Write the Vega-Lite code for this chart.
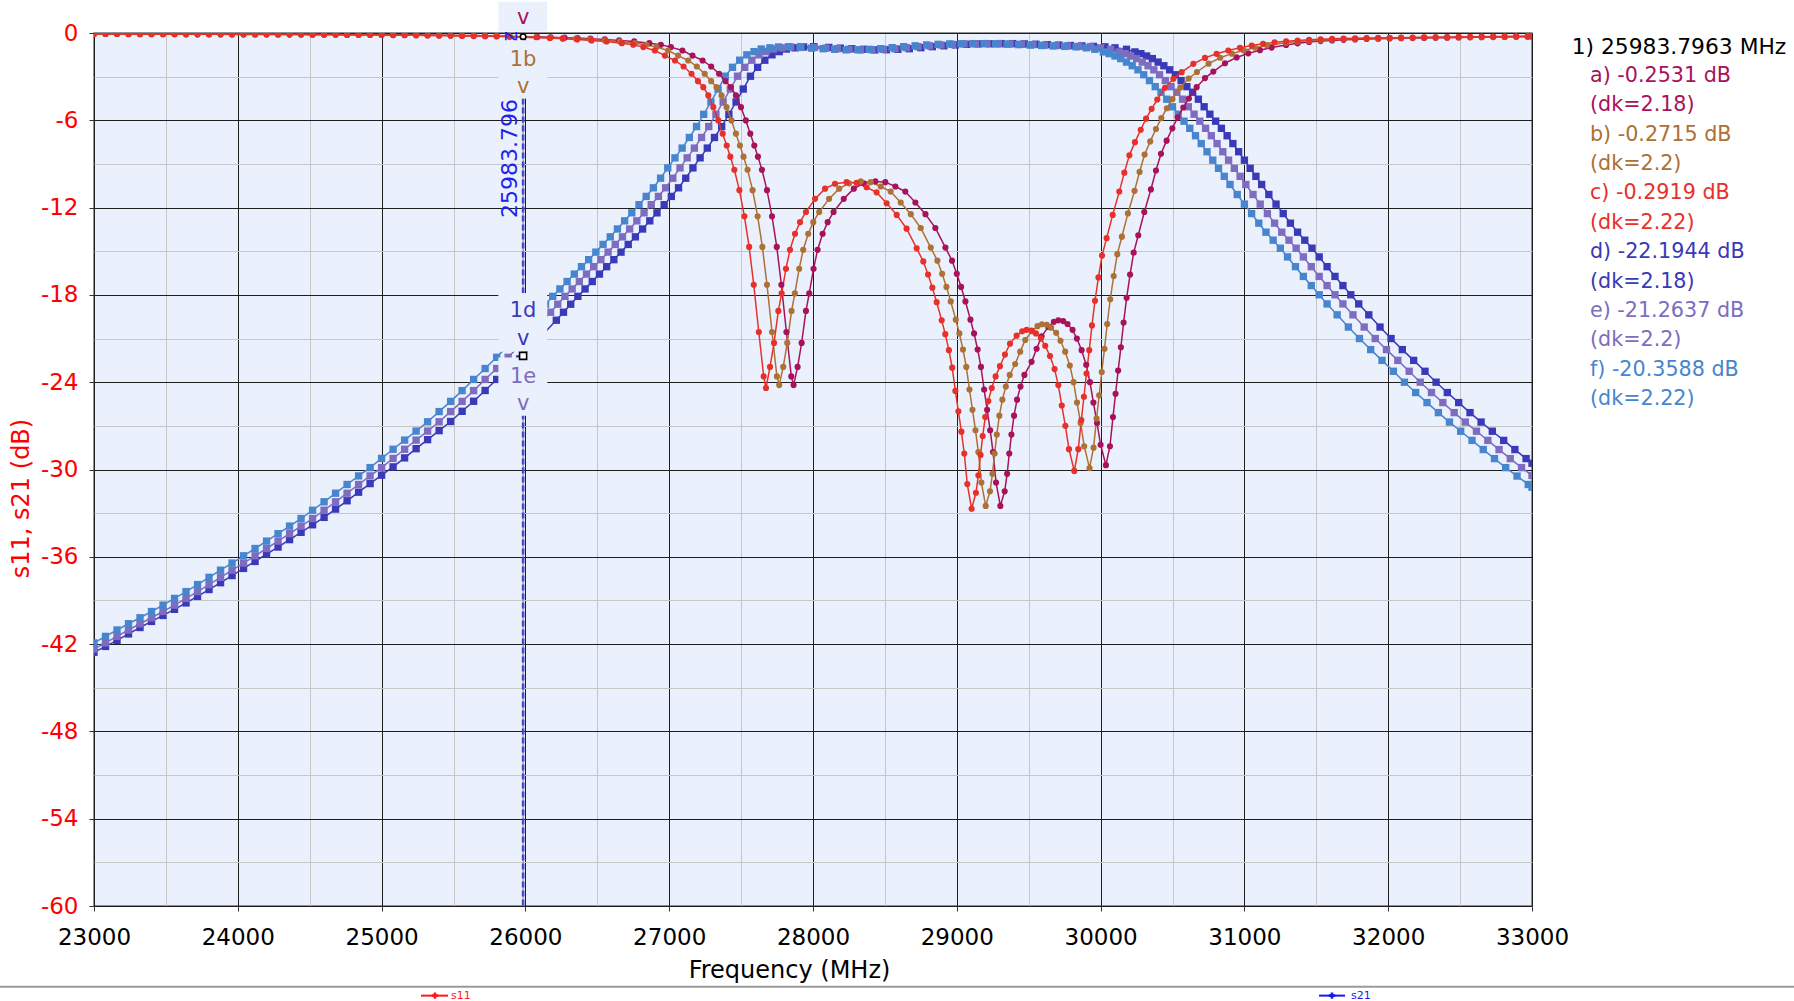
{
"$schema":"https://vega.github.io/schema/vega-lite/v6.json",
"width":1438,"height":873,
"autosize":{"type":"none"},
"padding":{"left":94,"top":33,"right":262,"bottom":95},
"background":"#FFFFFF",
"config":{"font":"DejaVu Sans","view":{"fill":"#EBF1FC","stroke":"#707070","strokeWidth":1.5}},
"datasets":{
"curves":[
{"s":"d","f":23000,"v":-42.56},{"s":"d","f":23080,"v":-42.16},{"s":"d","f":23160,"v":-41.74},{"s":"d","f":23240,"v":-41.3},{"s":"d","f":23320,"v":-40.86},{"s":"d","f":23400,"v":-40.44},{"s":"d","f":23480,"v":-40.03},{"s":"d","f":23560,"v":-39.61},{"s":"d","f":23640,"v":-39.17},{"s":"d","f":23720,"v":-38.72},{"s":"d","f":23800,"v":-38.25},{"s":"d","f":23880,"v":-37.78},{"s":"d","f":23960,"v":-37.29},{"s":"d","f":24040,"v":-36.8},{"s":"d","f":24120,"v":-36.32},{"s":"d","f":24200,"v":-35.82},{"s":"d","f":24280,"v":-35.33},{"s":"d","f":24360,"v":-34.82},{"s":"d","f":24440,"v":-34.32},{"s":"d","f":24520,"v":-33.8},{"s":"d","f":24600,"v":-33.29},{"s":"d","f":24680,"v":-32.72},{"s":"d","f":24760,"v":-32.15},{"s":"d","f":24840,"v":-31.56},{"s":"d","f":24920,"v":-30.97},{"s":"d","f":25000,"v":-30.39},{"s":"d","f":25080,"v":-29.82},{"s":"d","f":25160,"v":-29.2},{"s":"d","f":25240,"v":-28.57},{"s":"d","f":25320,"v":-27.95},{"s":"d","f":25400,"v":-27.33},{"s":"d","f":25480,"v":-26.7},{"s":"d","f":25560,"v":-26.0},{"s":"d","f":25640,"v":-25.31},{"s":"d","f":25720,"v":-24.57},{"s":"d","f":25800,"v":-23.81},{"s":"d","f":25880,"v":-23.12},{"s":"d","f":25960,"v":-22.4},
{"s":"d","f":26215,"v":-19.74},{"s":"d","f":26265,"v":-19.19},{"s":"d","f":26315,"v":-18.64},{"s":"d","f":26365,"v":-18.1},{"s":"d","f":26415,"v":-17.59},{"s":"d","f":26465,"v":-17.08},{"s":"d","f":26515,"v":-16.57},{"s":"d","f":26565,"v":-16.06},{"s":"d","f":26615,"v":-15.58},{"s":"d","f":26665,"v":-15.06},{"s":"d","f":26715,"v":-14.53},{"s":"d","f":26765,"v":-14.01},{"s":"d","f":26815,"v":-13.47},{"s":"d","f":26865,"v":-12.91},{"s":"d","f":26915,"v":-12.36},{"s":"d","f":26965,"v":-11.8},{"s":"d","f":27015,"v":-11.23},{"s":"d","f":27065,"v":-10.64},{"s":"d","f":27115,"v":-9.98},{"s":"d","f":27165,"v":-9.27},{"s":"d","f":27215,"v":-8.58},{"s":"d","f":27265,"v":-7.91},{"s":"d","f":27315,"v":-7.18},{"s":"d","f":27365,"v":-6.43},{"s":"d","f":27415,"v":-5.59},{"s":"d","f":27465,"v":-4.74},{"s":"d","f":27515,"v":-3.85},{"s":"d","f":27565,"v":-2.97},{"s":"d","f":27615,"v":-2.36},{"s":"d","f":27665,"v":-1.87},{"s":"d","f":27715,"v":-1.5},{"s":"d","f":27765,"v":-1.28},{"s":"d","f":27815,"v":-1.1},{"s":"d","f":27875,"v":-1.02},{"s":"d","f":27935,"v":-0.96},{"s":"d","f":28005,"v":-0.94},
{"s":"d","f":28110,"v":-0.99},{"s":"d","f":28190,"v":-1.04},{"s":"d","f":28270,"v":-1.08},{"s":"d","f":28350,"v":-1.12},{"s":"d","f":28430,"v":-1.16},{"s":"d","f":28510,"v":-1.15},{"s":"d","f":28590,"v":-1.12},{"s":"d","f":28670,"v":-1.08},{"s":"d","f":28750,"v":-1.01},{"s":"d","f":28830,"v":-0.94},{"s":"d","f":28910,"v":-0.88},{"s":"d","f":28990,"v":-0.82},{"s":"d","f":29070,"v":-0.78},{"s":"d","f":29150,"v":-0.75},{"s":"d","f":29230,"v":-0.74},{"s":"d","f":29310,"v":-0.73},{"s":"d","f":29390,"v":-0.73},{"s":"d","f":29470,"v":-0.75},{"s":"d","f":29550,"v":-0.77},{"s":"d","f":29630,"v":-0.8},{"s":"d","f":29710,"v":-0.83},{"s":"d","f":29790,"v":-0.86},{"s":"d","f":29870,"v":-0.89},{"s":"d","f":29950,"v":-0.92},{"s":"d","f":30030,"v":-0.95},{"s":"d","f":30100,"v":-1.02},
{"s":"d","f":30180,"v":-1.12},{"s":"d","f":30239,"v":-1.3},{"s":"d","f":30280,"v":-1.42},{"s":"d","f":30320,"v":-1.58},{"s":"d","f":30360,"v":-1.76},{"s":"d","f":30400,"v":-2.0},{"s":"d","f":30440,"v":-2.25},{"s":"d","f":30480,"v":-2.53},{"s":"d","f":30520,"v":-2.87},{"s":"d","f":30560,"v":-3.27},{"s":"d","f":30600,"v":-3.69},{"s":"d","f":30640,"v":-4.07},{"s":"d","f":30680,"v":-4.55},{"s":"d","f":30720,"v":-5.07},{"s":"d","f":30760,"v":-5.58},{"s":"d","f":30800,"v":-6.06},{"s":"d","f":30840,"v":-6.55},{"s":"d","f":30880,"v":-7.06},{"s":"d","f":30920,"v":-7.6},{"s":"d","f":30960,"v":-8.16},{"s":"d","f":31000,"v":-8.74},{"s":"d","f":31040,"v":-9.3},{"s":"d","f":31080,"v":-9.85},{"s":"d","f":31120,"v":-10.41},{"s":"d","f":31170,"v":-11.1},{"s":"d","f":31220,"v":-11.76},{"s":"d","f":31270,"v":-12.41},{"s":"d","f":31320,"v":-13.07},{"s":"d","f":31370,"v":-13.69},{"s":"d","f":31420,"v":-14.24},{"s":"d","f":31470,"v":-14.79},{"s":"d","f":31520,"v":-15.39},{"s":"d","f":31575,"v":-16.06},{"s":"d","f":31630,"v":-16.73},{"s":"d","f":31685,"v":-17.36},{"s":"d","f":31740,"v":-17.99},{"s":"d","f":31795,"v":-18.62},{"s":"d","f":31865,"v":-19.37},{"s":"d","f":31943,"v":-20.21},{"s":"d","f":32020,"v":-21.0},{"s":"d","f":32098,"v":-21.76},{"s":"d","f":32177,"v":-22.5},{"s":"d","f":32256,"v":-23.25},{"s":"d","f":32333,"v":-24.0},{"s":"d","f":32411,"v":-24.71},{"s":"d","f":32490,"v":-25.4},{"s":"d","f":32569,"v":-26.09},{"s":"d","f":32646,"v":-26.74},{"s":"d","f":32724,"v":-27.37},{"s":"d","f":32803,"v":-28.0},{"s":"d","f":32881,"v":-28.63},{"s":"d","f":32959,"v":-29.25},{"s":"d","f":33000,"v":-29.57},
{"s":"e","f":23000,"v":-42.34},{"s":"e","f":23080,"v":-41.92},{"s":"e","f":23160,"v":-41.47},{"s":"e","f":23240,"v":-41.03},{"s":"e","f":23320,"v":-40.6},{"s":"e","f":23400,"v":-40.19},{"s":"e","f":23480,"v":-39.76},{"s":"e","f":23560,"v":-39.32},{"s":"e","f":23640,"v":-38.86},{"s":"e","f":23720,"v":-38.39},{"s":"e","f":23800,"v":-37.91},{"s":"e","f":23880,"v":-37.41},{"s":"e","f":23960,"v":-36.92},{"s":"e","f":24040,"v":-36.43},{"s":"e","f":24120,"v":-35.93},{"s":"e","f":24200,"v":-35.43},{"s":"e","f":24280,"v":-34.92},{"s":"e","f":24360,"v":-34.41},{"s":"e","f":24440,"v":-33.89},{"s":"e","f":24520,"v":-33.37},{"s":"e","f":24600,"v":-32.8},{"s":"e","f":24680,"v":-32.22},{"s":"e","f":24760,"v":-31.63},{"s":"e","f":24840,"v":-31.03},{"s":"e","f":24920,"v":-30.44},{"s":"e","f":25000,"v":-29.87},{"s":"e","f":25080,"v":-29.24},{"s":"e","f":25160,"v":-28.61},{"s":"e","f":25240,"v":-27.98},{"s":"e","f":25320,"v":-27.36},{"s":"e","f":25400,"v":-26.72},{"s":"e","f":25480,"v":-26.02},{"s":"e","f":25560,"v":-25.32},{"s":"e","f":25640,"v":-24.58},{"s":"e","f":25720,"v":-23.81},{"s":"e","f":25800,"v":-23.06},{"s":"e","f":25880,"v":-22.29},{"s":"e","f":25960,"v":-21.47},
{"s":"e","f":26125,"v":-19.74},{"s":"e","f":26175,"v":-19.19},{"s":"e","f":26225,"v":-18.64},{"s":"e","f":26275,"v":-18.1},{"s":"e","f":26325,"v":-17.59},{"s":"e","f":26375,"v":-17.08},{"s":"e","f":26425,"v":-16.57},{"s":"e","f":26475,"v":-16.06},{"s":"e","f":26525,"v":-15.58},{"s":"e","f":26575,"v":-15.06},{"s":"e","f":26625,"v":-14.53},{"s":"e","f":26675,"v":-14.01},{"s":"e","f":26725,"v":-13.47},{"s":"e","f":26775,"v":-12.91},{"s":"e","f":26825,"v":-12.36},{"s":"e","f":26875,"v":-11.8},{"s":"e","f":26925,"v":-11.23},{"s":"e","f":26975,"v":-10.64},{"s":"e","f":27025,"v":-9.98},{"s":"e","f":27075,"v":-9.27},{"s":"e","f":27125,"v":-8.58},{"s":"e","f":27175,"v":-7.91},{"s":"e","f":27225,"v":-7.18},{"s":"e","f":27275,"v":-6.43},{"s":"e","f":27325,"v":-5.59},{"s":"e","f":27375,"v":-4.74},{"s":"e","f":27425,"v":-3.85},{"s":"e","f":27475,"v":-2.97},{"s":"e","f":27525,"v":-2.36},{"s":"e","f":27575,"v":-1.87},{"s":"e","f":27625,"v":-1.5},{"s":"e","f":27675,"v":-1.28},{"s":"e","f":27725,"v":-1.1},{"s":"e","f":27785,"v":-1.02},{"s":"e","f":27845,"v":-0.96},{"s":"e","f":27915,"v":-0.94},
{"s":"e","f":28010,"v":-0.99},{"s":"e","f":28090,"v":-1.04},{"s":"e","f":28170,"v":-1.08},{"s":"e","f":28250,"v":-1.12},{"s":"e","f":28330,"v":-1.16},{"s":"e","f":28410,"v":-1.15},{"s":"e","f":28490,"v":-1.12},{"s":"e","f":28570,"v":-1.08},{"s":"e","f":28650,"v":-1.01},{"s":"e","f":28730,"v":-0.94},{"s":"e","f":28810,"v":-0.88},{"s":"e","f":28890,"v":-0.82},{"s":"e","f":28970,"v":-0.78},{"s":"e","f":29050,"v":-0.75},{"s":"e","f":29130,"v":-0.74},{"s":"e","f":29210,"v":-0.73},{"s":"e","f":29290,"v":-0.73},{"s":"e","f":29370,"v":-0.75},{"s":"e","f":29450,"v":-0.77},{"s":"e","f":29530,"v":-0.8},{"s":"e","f":29610,"v":-0.83},{"s":"e","f":29690,"v":-0.86},{"s":"e","f":29770,"v":-0.89},{"s":"e","f":29850,"v":-0.92},{"s":"e","f":29930,"v":-0.95},{"s":"e","f":30000,"v":-1.02},
{"s":"e","f":30070,"v":-1.12},{"s":"e","f":30129,"v":-1.3},{"s":"e","f":30170,"v":-1.42},{"s":"e","f":30210,"v":-1.58},{"s":"e","f":30250,"v":-1.76},{"s":"e","f":30290,"v":-2.0},{"s":"e","f":30330,"v":-2.25},{"s":"e","f":30370,"v":-2.53},{"s":"e","f":30410,"v":-2.87},{"s":"e","f":30450,"v":-3.27},{"s":"e","f":30490,"v":-3.69},{"s":"e","f":30530,"v":-4.07},{"s":"e","f":30570,"v":-4.55},{"s":"e","f":30610,"v":-5.07},{"s":"e","f":30650,"v":-5.58},{"s":"e","f":30690,"v":-6.06},{"s":"e","f":30730,"v":-6.55},{"s":"e","f":30770,"v":-7.06},{"s":"e","f":30810,"v":-7.6},{"s":"e","f":30850,"v":-8.16},{"s":"e","f":30890,"v":-8.74},{"s":"e","f":30930,"v":-9.3},{"s":"e","f":30970,"v":-9.85},{"s":"e","f":31010,"v":-10.41},{"s":"e","f":31060,"v":-11.1},{"s":"e","f":31110,"v":-11.76},{"s":"e","f":31160,"v":-12.41},{"s":"e","f":31210,"v":-13.07},{"s":"e","f":31260,"v":-13.69},{"s":"e","f":31310,"v":-14.24},{"s":"e","f":31360,"v":-14.79},{"s":"e","f":31410,"v":-15.39},{"s":"e","f":31465,"v":-16.06},{"s":"e","f":31520,"v":-16.73},{"s":"e","f":31575,"v":-17.36},{"s":"e","f":31630,"v":-17.99},{"s":"e","f":31685,"v":-18.62},{"s":"e","f":31755,"v":-19.37},{"s":"e","f":31833,"v":-20.21},{"s":"e","f":31910,"v":-21.0},{"s":"e","f":31988,"v":-21.76},{"s":"e","f":32067,"v":-22.5},{"s":"e","f":32146,"v":-23.25},{"s":"e","f":32223,"v":-24.0},{"s":"e","f":32301,"v":-24.71},{"s":"e","f":32380,"v":-25.4},{"s":"e","f":32459,"v":-26.09},{"s":"e","f":32536,"v":-26.74},{"s":"e","f":32614,"v":-27.37},{"s":"e","f":32693,"v":-28.0},{"s":"e","f":32771,"v":-28.63},{"s":"e","f":32849,"v":-29.25},{"s":"e","f":32927,"v":-29.87},{"s":"e","f":33000,"v":-30.41},
{"s":"f","f":23000,"v":-41.92},{"s":"f","f":23080,"v":-41.47},{"s":"f","f":23160,"v":-41.03},{"s":"f","f":23240,"v":-40.6},{"s":"f","f":23320,"v":-40.19},{"s":"f","f":23400,"v":-39.76},{"s":"f","f":23480,"v":-39.32},{"s":"f","f":23560,"v":-38.86},{"s":"f","f":23640,"v":-38.39},{"s":"f","f":23720,"v":-37.91},{"s":"f","f":23800,"v":-37.41},{"s":"f","f":23880,"v":-36.92},{"s":"f","f":23960,"v":-36.43},{"s":"f","f":24040,"v":-35.93},{"s":"f","f":24120,"v":-35.43},{"s":"f","f":24200,"v":-34.92},{"s":"f","f":24280,"v":-34.41},{"s":"f","f":24360,"v":-33.89},{"s":"f","f":24440,"v":-33.37},{"s":"f","f":24520,"v":-32.8},{"s":"f","f":24600,"v":-32.22},{"s":"f","f":24680,"v":-31.63},{"s":"f","f":24760,"v":-31.03},{"s":"f","f":24840,"v":-30.44},{"s":"f","f":24920,"v":-29.87},{"s":"f","f":25000,"v":-29.24},{"s":"f","f":25080,"v":-28.61},{"s":"f","f":25160,"v":-27.98},{"s":"f","f":25240,"v":-27.36},{"s":"f","f":25320,"v":-26.72},{"s":"f","f":25400,"v":-26.02},{"s":"f","f":25480,"v":-25.32},{"s":"f","f":25560,"v":-24.58},{"s":"f","f":25640,"v":-23.81},{"s":"f","f":25720,"v":-23.06},{"s":"f","f":25800,"v":-22.29},{"s":"f","f":25880,"v":-21.47},{"s":"f","f":25960,"v":-20.61},
{"s":"f","f":26040,"v":-19.74},{"s":"f","f":26090,"v":-19.19},{"s":"f","f":26140,"v":-18.64},{"s":"f","f":26190,"v":-18.1},{"s":"f","f":26240,"v":-17.59},{"s":"f","f":26290,"v":-17.08},{"s":"f","f":26340,"v":-16.57},{"s":"f","f":26390,"v":-16.06},{"s":"f","f":26440,"v":-15.58},{"s":"f","f":26490,"v":-15.06},{"s":"f","f":26540,"v":-14.53},{"s":"f","f":26590,"v":-14.01},{"s":"f","f":26640,"v":-13.47},{"s":"f","f":26690,"v":-12.91},{"s":"f","f":26740,"v":-12.36},{"s":"f","f":26790,"v":-11.8},{"s":"f","f":26840,"v":-11.23},{"s":"f","f":26890,"v":-10.64},{"s":"f","f":26940,"v":-9.98},{"s":"f","f":26990,"v":-9.27},{"s":"f","f":27040,"v":-8.58},{"s":"f","f":27090,"v":-7.91},{"s":"f","f":27140,"v":-7.18},{"s":"f","f":27190,"v":-6.43},{"s":"f","f":27240,"v":-5.59},{"s":"f","f":27290,"v":-4.74},{"s":"f","f":27340,"v":-3.85},{"s":"f","f":27390,"v":-2.97},{"s":"f","f":27440,"v":-2.36},{"s":"f","f":27490,"v":-1.87},{"s":"f","f":27540,"v":-1.5},{"s":"f","f":27590,"v":-1.28},{"s":"f","f":27640,"v":-1.1},{"s":"f","f":27700,"v":-1.02},{"s":"f","f":27760,"v":-0.96},{"s":"f","f":27830,"v":-0.94},
{"s":"f","f":27910,"v":-0.99},{"s":"f","f":27990,"v":-1.04},{"s":"f","f":28070,"v":-1.08},{"s":"f","f":28150,"v":-1.12},{"s":"f","f":28230,"v":-1.16},{"s":"f","f":28310,"v":-1.15},{"s":"f","f":28390,"v":-1.12},{"s":"f","f":28470,"v":-1.08},{"s":"f","f":28550,"v":-1.01},{"s":"f","f":28630,"v":-0.94},{"s":"f","f":28710,"v":-0.88},{"s":"f","f":28790,"v":-0.82},{"s":"f","f":28870,"v":-0.78},{"s":"f","f":28950,"v":-0.75},{"s":"f","f":29030,"v":-0.74},{"s":"f","f":29110,"v":-0.73},{"s":"f","f":29190,"v":-0.73},{"s":"f","f":29270,"v":-0.75},{"s":"f","f":29350,"v":-0.77},{"s":"f","f":29430,"v":-0.8},{"s":"f","f":29510,"v":-0.83},{"s":"f","f":29590,"v":-0.86},{"s":"f","f":29670,"v":-0.89},{"s":"f","f":29750,"v":-0.92},{"s":"f","f":29830,"v":-0.95},{"s":"f","f":29900,"v":-1.02},
{"s":"f","f":29960,"v":-1.12},{"s":"f","f":30019,"v":-1.3},{"s":"f","f":30060,"v":-1.42},{"s":"f","f":30100,"v":-1.58},{"s":"f","f":30140,"v":-1.76},{"s":"f","f":30180,"v":-2.0},{"s":"f","f":30220,"v":-2.25},{"s":"f","f":30260,"v":-2.53},{"s":"f","f":30300,"v":-2.87},{"s":"f","f":30340,"v":-3.27},{"s":"f","f":30380,"v":-3.69},{"s":"f","f":30420,"v":-4.07},{"s":"f","f":30460,"v":-4.55},{"s":"f","f":30500,"v":-5.07},{"s":"f","f":30540,"v":-5.58},{"s":"f","f":30580,"v":-6.06},{"s":"f","f":30620,"v":-6.55},{"s":"f","f":30660,"v":-7.06},{"s":"f","f":30700,"v":-7.6},{"s":"f","f":30740,"v":-8.16},{"s":"f","f":30780,"v":-8.74},{"s":"f","f":30820,"v":-9.3},{"s":"f","f":30860,"v":-9.85},{"s":"f","f":30900,"v":-10.41},{"s":"f","f":30950,"v":-11.1},{"s":"f","f":31000,"v":-11.76},{"s":"f","f":31050,"v":-12.41},{"s":"f","f":31100,"v":-13.07},{"s":"f","f":31150,"v":-13.69},{"s":"f","f":31200,"v":-14.24},{"s":"f","f":31250,"v":-14.79},{"s":"f","f":31300,"v":-15.39},{"s":"f","f":31355,"v":-16.06},{"s":"f","f":31410,"v":-16.73},{"s":"f","f":31465,"v":-17.36},{"s":"f","f":31520,"v":-17.99},{"s":"f","f":31575,"v":-18.62},{"s":"f","f":31645,"v":-19.37},{"s":"f","f":31723,"v":-20.21},{"s":"f","f":31800,"v":-21.0},{"s":"f","f":31878,"v":-21.76},{"s":"f","f":31957,"v":-22.5},{"s":"f","f":32036,"v":-23.25},{"s":"f","f":32113,"v":-24.0},{"s":"f","f":32191,"v":-24.71},{"s":"f","f":32270,"v":-25.4},{"s":"f","f":32349,"v":-26.09},{"s":"f","f":32426,"v":-26.74},{"s":"f","f":32504,"v":-27.37},{"s":"f","f":32583,"v":-28.0},{"s":"f","f":32661,"v":-28.63},{"s":"f","f":32739,"v":-29.25},{"s":"f","f":32817,"v":-29.87},{"s":"f","f":32896,"v":-30.45},{"s":"f","f":32974,"v":-31.03},{"s":"f","f":33000,"v":-31.22},
{"s":"a","f":23000,"v":-0.06},{"s":"a","f":23080,"v":-0.06},{"s":"a","f":23160,"v":-0.06},{"s":"a","f":23240,"v":-0.07},{"s":"a","f":23320,"v":-0.07},{"s":"a","f":23400,"v":-0.07},{"s":"a","f":23480,"v":-0.07},{"s":"a","f":23560,"v":-0.07},{"s":"a","f":23640,"v":-0.08},{"s":"a","f":23720,"v":-0.08},{"s":"a","f":23800,"v":-0.08},{"s":"a","f":23880,"v":-0.08},{"s":"a","f":23960,"v":-0.08},{"s":"a","f":24040,"v":-0.08},{"s":"a","f":24120,"v":-0.08},{"s":"a","f":24200,"v":-0.08},{"s":"a","f":24280,"v":-0.09},{"s":"a","f":24360,"v":-0.09},{"s":"a","f":24440,"v":-0.09},{"s":"a","f":24520,"v":-0.1},{"s":"a","f":24600,"v":-0.1},{"s":"a","f":24680,"v":-0.1},{"s":"a","f":24760,"v":-0.1},{"s":"a","f":24840,"v":-0.1},{"s":"a","f":24920,"v":-0.11},{"s":"a","f":25000,"v":-0.11},{"s":"a","f":25080,"v":-0.12},{"s":"a","f":25160,"v":-0.12},{"s":"a","f":25240,"v":-0.13},{"s":"a","f":25320,"v":-0.14},{"s":"a","f":25400,"v":-0.15},{"s":"a","f":25480,"v":-0.16},{"s":"a","f":25560,"v":-0.17},{"s":"a","f":25640,"v":-0.18},{"s":"a","f":25720,"v":-0.19},{"s":"a","f":25800,"v":-0.2},{"s":"a","f":25890,"v":-0.22},{"s":"a","f":25984,"v":-0.25},
{"s":"a","f":26082,"v":-0.26},{"s":"a","f":26176,"v":-0.29},{"s":"a","f":26272,"v":-0.32},{"s":"a","f":26362,"v":-0.35},{"s":"a","f":26452,"v":-0.39},{"s":"a","f":26552,"v":-0.44},{"s":"a","f":26652,"v":-0.51},{"s":"a","f":26757,"v":-0.58},{"s":"a","f":26862,"v":-0.7},{"s":"a","f":26942,"v":-0.81},{"s":"a","f":27012,"v":-0.97},{"s":"a","f":27092,"v":-1.2},{"s":"a","f":27162,"v":-1.55},{"s":"a","f":27232,"v":-1.89},{"s":"a","f":27292,"v":-2.3},{"s":"a","f":27347,"v":-2.8},{"s":"a","f":27392,"v":-3.31},{"s":"a","f":27429,"v":-3.72},{"s":"a","f":27464,"v":-4.29},{"s":"a","f":27499,"v":-5.1},{"s":"a","f":27533,"v":-6.01},{"s":"a","f":27564,"v":-6.92},{"s":"a","f":27592,"v":-7.73},{"s":"a","f":27617,"v":-8.5},{"s":"a","f":27645,"v":-9.4},{"s":"a","f":27680,"v":-10.8},{"s":"a","f":27715,"v":-12.6},{"s":"a","f":27748,"v":-14.7},{"s":"a","f":27780,"v":-17.3},{"s":"a","f":27815,"v":-20.55},{"s":"a","f":27849,"v":-23.6},{"s":"a","f":27865,"v":-24.2},{"s":"a","f":27893,"v":-22.95},{"s":"a","f":27921,"v":-21.3},{"s":"a","f":27951,"v":-19.1},{"s":"a","f":27974,"v":-17.9},{"s":"a","f":28004,"v":-16.2},{"s":"a","f":28032,"v":-14.9},{"s":"a","f":28067,"v":-13.8},{"s":"a","f":28102,"v":-13.0},{"s":"a","f":28143,"v":-12.3},
{"s":"a","f":28214,"v":-11.4},{"s":"a","f":28284,"v":-10.7},{"s":"a","f":28353,"v":-10.33},{"s":"a","f":28434,"v":-10.2},{"s":"a","f":28503,"v":-10.25},{"s":"a","f":28573,"v":-10.55},{"s":"a","f":28642,"v":-10.9},{"s":"a","f":28712,"v":-11.65},{"s":"a","f":28782,"v":-12.45},{"s":"a","f":28851,"v":-13.4},{"s":"a","f":28921,"v":-14.75},{"s":"a","f":28967,"v":-15.65},{"s":"a","f":29000,"v":-16.55},{"s":"a","f":29030,"v":-17.45},{"s":"a","f":29060,"v":-18.45},{"s":"a","f":29095,"v":-19.7},{"s":"a","f":29120,"v":-20.65},{"s":"a","f":29145,"v":-21.75},{"s":"a","f":29168,"v":-22.95},{"s":"a","f":29190,"v":-24.5},{"s":"a","f":29211,"v":-25.9},{"s":"a","f":29232,"v":-27.3},{"s":"a","f":29252,"v":-28.8},{"s":"a","f":29273,"v":-30.9},{"s":"a","f":29303,"v":-32.5},{"s":"a","f":29333,"v":-31.5},{"s":"a","f":29350,"v":-30.3},{"s":"a","f":29365,"v":-28.9},{"s":"a","f":29380,"v":-27.6},{"s":"a","f":29398,"v":-26.3},{"s":"a","f":29419,"v":-25.2},{"s":"a","f":29443,"v":-24.3},{"s":"a","f":29470,"v":-23.5},
{"s":"a","f":29520,"v":-22.6},{"s":"a","f":29555,"v":-21.7},{"s":"a","f":29590,"v":-20.85},{"s":"a","f":29636,"v":-20.2},{"s":"a","f":29675,"v":-19.85},{"s":"a","f":29706,"v":-19.75},{"s":"a","f":29740,"v":-19.8},{"s":"a","f":29770,"v":-20.0},{"s":"a","f":29805,"v":-20.4},{"s":"a","f":29835,"v":-21.0},{"s":"a","f":29868,"v":-21.8},{"s":"a","f":29900,"v":-22.8},{"s":"a","f":29926,"v":-24.0},{"s":"a","f":29950,"v":-25.4},{"s":"a","f":29975,"v":-26.8},{"s":"a","f":30000,"v":-28.3},{"s":"a","f":30037,"v":-29.7},{"s":"a","f":30065,"v":-28.4},{"s":"a","f":30086,"v":-26.4},{"s":"a","f":30104,"v":-24.8},{"s":"a","f":30122,"v":-23.2},{"s":"a","f":30141,"v":-21.6},{"s":"a","f":30160,"v":-19.9},{"s":"a","f":30181,"v":-18.2},{"s":"a","f":30205,"v":-16.6},{"s":"a","f":30230,"v":-15.1},{"s":"a","f":30262,"v":-13.9},{"s":"a","f":30304,"v":-12.3},{"s":"a","f":30350,"v":-10.75},{"s":"a","f":30385,"v":-9.45},{"s":"a","f":30420,"v":-8.3},{"s":"a","f":30459,"v":-7.4},{"s":"a","f":30499,"v":-6.55},{"s":"a","f":30536,"v":-5.8},{"s":"a","f":30575,"v":-5.12},{"s":"a","f":30614,"v":-4.5},{"s":"a","f":30668,"v":-3.72},{"s":"a","f":30726,"v":-3.1},{"s":"a","f":30784,"v":-2.65},{"s":"a","f":30865,"v":-2.08},{"s":"a","f":30946,"v":-1.68},{"s":"a","f":31027,"v":-1.4},{"s":"a","f":31108,"v":-1.18},{"s":"a","f":31189,"v":-1.0},
{"s":"a","f":31290,"v":-0.82},{"s":"a","f":31370,"v":-0.71},{"s":"a","f":31450,"v":-0.62},{"s":"a","f":31530,"v":-0.555},{"s":"a","f":31610,"v":-0.51},{"s":"a","f":31690,"v":-0.47},{"s":"a","f":31770,"v":-0.44},{"s":"a","f":31850,"v":-0.41},{"s":"a","f":31930,"v":-0.39},{"s":"a","f":32010,"v":-0.375},{"s":"a","f":32090,"v":-0.36},{"s":"a","f":32170,"v":-0.35},{"s":"a","f":32250,"v":-0.34},{"s":"a","f":32330,"v":-0.33},{"s":"a","f":32410,"v":-0.32},{"s":"a","f":32490,"v":-0.31},{"s":"a","f":32570,"v":-0.3},{"s":"a","f":32650,"v":-0.29},{"s":"a","f":32730,"v":-0.28},{"s":"a","f":32810,"v":-0.27},{"s":"a","f":32890,"v":-0.26},{"s":"a","f":32970,"v":-0.255},{"s":"a","f":33000,"v":-0.25},
{"s":"b","f":23000,"v":-0.07},{"s":"b","f":23080,"v":-0.07},{"s":"b","f":23160,"v":-0.07},{"s":"b","f":23240,"v":-0.07},{"s":"b","f":23320,"v":-0.08},{"s":"b","f":23400,"v":-0.08},{"s":"b","f":23480,"v":-0.08},{"s":"b","f":23560,"v":-0.08},{"s":"b","f":23640,"v":-0.08},{"s":"b","f":23720,"v":-0.08},{"s":"b","f":23800,"v":-0.09},{"s":"b","f":23880,"v":-0.09},{"s":"b","f":23960,"v":-0.09},{"s":"b","f":24040,"v":-0.09},{"s":"b","f":24120,"v":-0.09},{"s":"b","f":24200,"v":-0.09},{"s":"b","f":24280,"v":-0.1},{"s":"b","f":24360,"v":-0.1},{"s":"b","f":24440,"v":-0.1},{"s":"b","f":24520,"v":-0.11},{"s":"b","f":24600,"v":-0.11},{"s":"b","f":24680,"v":-0.11},{"s":"b","f":24760,"v":-0.12},{"s":"b","f":24840,"v":-0.12},{"s":"b","f":24920,"v":-0.12},{"s":"b","f":25000,"v":-0.13},{"s":"b","f":25080,"v":-0.13},{"s":"b","f":25160,"v":-0.14},{"s":"b","f":25240,"v":-0.15},{"s":"b","f":25320,"v":-0.16},{"s":"b","f":25400,"v":-0.17},{"s":"b","f":25480,"v":-0.18},{"s":"b","f":25560,"v":-0.19},{"s":"b","f":25640,"v":-0.2},{"s":"b","f":25720,"v":-0.21},{"s":"b","f":25800,"v":-0.22},{"s":"b","f":25890,"v":-0.24},
{"s":"b","f":25982,"v":-0.27},{"s":"b","f":26076,"v":-0.29},{"s":"b","f":26172,"v":-0.32},{"s":"b","f":26262,"v":-0.35},{"s":"b","f":26352,"v":-0.39},{"s":"b","f":26452,"v":-0.44},{"s":"b","f":26552,"v":-0.51},{"s":"b","f":26657,"v":-0.58},{"s":"b","f":26762,"v":-0.7},{"s":"b","f":26842,"v":-0.81},{"s":"b","f":26912,"v":-0.97},{"s":"b","f":26992,"v":-1.2},{"s":"b","f":27062,"v":-1.55},{"s":"b","f":27132,"v":-1.89},{"s":"b","f":27192,"v":-2.3},{"s":"b","f":27247,"v":-2.8},{"s":"b","f":27292,"v":-3.31},{"s":"b","f":27329,"v":-3.72},{"s":"b","f":27364,"v":-4.29},{"s":"b","f":27399,"v":-5.1},{"s":"b","f":27433,"v":-6.01},{"s":"b","f":27464,"v":-6.92},{"s":"b","f":27492,"v":-7.73},{"s":"b","f":27517,"v":-8.5},{"s":"b","f":27545,"v":-9.4},{"s":"b","f":27580,"v":-10.8},{"s":"b","f":27615,"v":-12.6},{"s":"b","f":27648,"v":-14.7},{"s":"b","f":27680,"v":-17.3},{"s":"b","f":27715,"v":-20.55},{"s":"b","f":27749,"v":-23.6},{"s":"b","f":27765,"v":-24.2},{"s":"b","f":27793,"v":-22.95},{"s":"b","f":27821,"v":-21.3},{"s":"b","f":27851,"v":-19.1},{"s":"b","f":27874,"v":-17.9},{"s":"b","f":27904,"v":-16.2},{"s":"b","f":27932,"v":-14.9},{"s":"b","f":27967,"v":-13.8},{"s":"b","f":28002,"v":-13.0},{"s":"b","f":28043,"v":-12.3},
{"s":"b","f":28112,"v":-11.4},{"s":"b","f":28182,"v":-10.7},{"s":"b","f":28251,"v":-10.33},{"s":"b","f":28332,"v":-10.2},{"s":"b","f":28401,"v":-10.25},{"s":"b","f":28471,"v":-10.55},{"s":"b","f":28540,"v":-10.9},{"s":"b","f":28610,"v":-11.65},{"s":"b","f":28680,"v":-12.45},{"s":"b","f":28749,"v":-13.4},{"s":"b","f":28819,"v":-14.75},{"s":"b","f":28865,"v":-15.65},{"s":"b","f":28898,"v":-16.55},{"s":"b","f":28928,"v":-17.45},{"s":"b","f":28958,"v":-18.45},{"s":"b","f":28993,"v":-19.7},{"s":"b","f":29018,"v":-20.65},{"s":"b","f":29043,"v":-21.75},{"s":"b","f":29066,"v":-22.95},{"s":"b","f":29088,"v":-24.5},{"s":"b","f":29109,"v":-25.9},{"s":"b","f":29130,"v":-27.3},{"s":"b","f":29150,"v":-28.8},{"s":"b","f":29171,"v":-30.9},{"s":"b","f":29201,"v":-32.5},{"s":"b","f":29231,"v":-31.5},{"s":"b","f":29248,"v":-30.3},{"s":"b","f":29263,"v":-28.9},{"s":"b","f":29278,"v":-27.6},{"s":"b","f":29296,"v":-26.3},{"s":"b","f":29317,"v":-25.2},{"s":"b","f":29341,"v":-24.3},{"s":"b","f":29368,"v":-23.5},
{"s":"b","f":29406,"v":-22.75},{"s":"b","f":29441,"v":-21.9},{"s":"b","f":29476,"v":-21.1},{"s":"b","f":29522,"v":-20.5},{"s":"b","f":29561,"v":-20.15},{"s":"b","f":29592,"v":-20.02},{"s":"b","f":29626,"v":-20.05},{"s":"b","f":29656,"v":-20.25},{"s":"b","f":29691,"v":-20.6},{"s":"b","f":29721,"v":-21.15},{"s":"b","f":29754,"v":-21.9},{"s":"b","f":29786,"v":-22.85},{"s":"b","f":29812,"v":-24.0},{"s":"b","f":29836,"v":-25.4},{"s":"b","f":29861,"v":-26.8},{"s":"b","f":29886,"v":-28.4},{"s":"b","f":29923,"v":-29.9},{"s":"b","f":29951,"v":-28.5},{"s":"b","f":29972,"v":-26.5},{"s":"b","f":29990,"v":-24.9},{"s":"b","f":30008,"v":-23.3},{"s":"b","f":30027,"v":-21.7},{"s":"b","f":30046,"v":-20.0},{"s":"b","f":30067,"v":-18.3},{"s":"b","f":30091,"v":-16.7},{"s":"b","f":30116,"v":-15.2},{"s":"b","f":30148,"v":-14.0},{"s":"b","f":30190,"v":-12.4},{"s":"b","f":30236,"v":-10.85},{"s":"b","f":30271,"v":-9.55},{"s":"b","f":30306,"v":-8.35},{"s":"b","f":30345,"v":-7.45},{"s":"b","f":30385,"v":-6.6},{"s":"b","f":30422,"v":-5.85},{"s":"b","f":30461,"v":-5.17},{"s":"b","f":30500,"v":-4.54},{"s":"b","f":30554,"v":-3.75},{"s":"b","f":30612,"v":-3.13},{"s":"b","f":30670,"v":-2.68},{"s":"b","f":30751,"v":-2.11},{"s":"b","f":30832,"v":-1.7},{"s":"b","f":30913,"v":-1.42},{"s":"b","f":30994,"v":-1.19},{"s":"b","f":31075,"v":-1.01},{"s":"b","f":31157,"v":-0.85},
{"s":"b","f":31290,"v":-0.67},{"s":"b","f":31370,"v":-0.59},{"s":"b","f":31450,"v":-0.54},{"s":"b","f":31530,"v":-0.49},{"s":"b","f":31610,"v":-0.45},{"s":"b","f":31690,"v":-0.42},{"s":"b","f":31770,"v":-0.4},{"s":"b","f":31850,"v":-0.375},{"s":"b","f":31930,"v":-0.36},{"s":"b","f":32010,"v":-0.345},{"s":"b","f":32090,"v":-0.335},{"s":"b","f":32170,"v":-0.325},{"s":"b","f":32250,"v":-0.315},{"s":"b","f":32330,"v":-0.305},{"s":"b","f":32410,"v":-0.295},{"s":"b","f":32490,"v":-0.285},{"s":"b","f":32570,"v":-0.275},{"s":"b","f":32650,"v":-0.265},{"s":"b","f":32730,"v":-0.255},{"s":"b","f":32810,"v":-0.25},{"s":"b","f":32890,"v":-0.24},{"s":"b","f":32970,"v":-0.235},{"s":"b","f":33000,"v":-0.235},
{"s":"c","f":23000,"v":-0.07},{"s":"c","f":23080,"v":-0.07},{"s":"c","f":23160,"v":-0.07},{"s":"c","f":23240,"v":-0.08},{"s":"c","f":23320,"v":-0.08},{"s":"c","f":23400,"v":-0.08},{"s":"c","f":23480,"v":-0.08},{"s":"c","f":23560,"v":-0.08},{"s":"c","f":23640,"v":-0.09},{"s":"c","f":23720,"v":-0.09},{"s":"c","f":23800,"v":-0.09},{"s":"c","f":23880,"v":-0.09},{"s":"c","f":23960,"v":-0.1},{"s":"c","f":24040,"v":-0.1},{"s":"c","f":24120,"v":-0.1},{"s":"c","f":24200,"v":-0.1},{"s":"c","f":24280,"v":-0.11},{"s":"c","f":24360,"v":-0.11},{"s":"c","f":24440,"v":-0.11},{"s":"c","f":24520,"v":-0.12},{"s":"c","f":24600,"v":-0.12},{"s":"c","f":24680,"v":-0.12},{"s":"c","f":24760,"v":-0.13},{"s":"c","f":24840,"v":-0.13},{"s":"c","f":24920,"v":-0.14},{"s":"c","f":25000,"v":-0.14},{"s":"c","f":25080,"v":-0.15},{"s":"c","f":25160,"v":-0.15},{"s":"c","f":25240,"v":-0.16},{"s":"c","f":25320,"v":-0.17},{"s":"c","f":25400,"v":-0.18},{"s":"c","f":25480,"v":-0.19},{"s":"c","f":25560,"v":-0.2},{"s":"c","f":25640,"v":-0.21},{"s":"c","f":25720,"v":-0.22},{"s":"c","f":25800,"v":-0.23},
{"s":"c","f":25890,"v":-0.26},{"s":"c","f":25984,"v":-0.29},{"s":"c","f":26080,"v":-0.32},{"s":"c","f":26170,"v":-0.35},{"s":"c","f":26260,"v":-0.39},{"s":"c","f":26360,"v":-0.44},{"s":"c","f":26460,"v":-0.51},{"s":"c","f":26565,"v":-0.58},{"s":"c","f":26670,"v":-0.7},{"s":"c","f":26750,"v":-0.81},{"s":"c","f":26820,"v":-0.97},{"s":"c","f":26900,"v":-1.2},{"s":"c","f":26970,"v":-1.55},{"s":"c","f":27040,"v":-1.89},{"s":"c","f":27100,"v":-2.3},{"s":"c","f":27155,"v":-2.8},{"s":"c","f":27200,"v":-3.31},{"s":"c","f":27237,"v":-3.72},{"s":"c","f":27272,"v":-4.29},{"s":"c","f":27307,"v":-5.1},{"s":"c","f":27341,"v":-6.01},{"s":"c","f":27372,"v":-6.92},{"s":"c","f":27400,"v":-7.73},{"s":"c","f":27425,"v":-8.5},{"s":"c","f":27453,"v":-9.4},{"s":"c","f":27488,"v":-10.8},{"s":"c","f":27523,"v":-12.6},{"s":"c","f":27556,"v":-14.7},{"s":"c","f":27588,"v":-17.3},{"s":"c","f":27623,"v":-20.55},{"s":"c","f":27657,"v":-23.6},{"s":"c","f":27673,"v":-24.4},{"s":"c","f":27701,"v":-22.95},{"s":"c","f":27729,"v":-21.3},{"s":"c","f":27759,"v":-19.1},{"s":"c","f":27782,"v":-17.9},{"s":"c","f":27812,"v":-16.2},{"s":"c","f":27840,"v":-14.9},{"s":"c","f":27875,"v":-13.8},{"s":"c","f":27910,"v":-13.0},{"s":"c","f":27951,"v":-12.3},
{"s":"c","f":28014,"v":-11.4},{"s":"c","f":28084,"v":-10.7},{"s":"c","f":28153,"v":-10.36},{"s":"c","f":28234,"v":-10.25},{"s":"c","f":28303,"v":-10.3},{"s":"c","f":28373,"v":-10.6},{"s":"c","f":28442,"v":-10.95},{"s":"c","f":28512,"v":-11.7},{"s":"c","f":28582,"v":-12.5},{"s":"c","f":28651,"v":-13.45},{"s":"c","f":28721,"v":-14.8},{"s":"c","f":28767,"v":-15.7},{"s":"c","f":28800,"v":-16.6},{"s":"c","f":28830,"v":-17.5},{"s":"c","f":28860,"v":-18.5},{"s":"c","f":28895,"v":-19.75},{"s":"c","f":28920,"v":-20.7},{"s":"c","f":28945,"v":-21.8},{"s":"c","f":28968,"v":-23.0},{"s":"c","f":28990,"v":-24.6},{"s":"c","f":29011,"v":-26.0},{"s":"c","f":29032,"v":-27.4},{"s":"c","f":29052,"v":-28.9},{"s":"c","f":29073,"v":-31.0},{"s":"c","f":29103,"v":-32.7},{"s":"c","f":29133,"v":-31.6},{"s":"c","f":29150,"v":-30.4},{"s":"c","f":29165,"v":-29.0},{"s":"c","f":29180,"v":-27.7},{"s":"c","f":29198,"v":-26.4},{"s":"c","f":29219,"v":-25.3},{"s":"c","f":29243,"v":-24.4},{"s":"c","f":29270,"v":-23.6},
{"s":"c","f":29300,"v":-22.9},{"s":"c","f":29335,"v":-22.1},{"s":"c","f":29370,"v":-21.35},{"s":"c","f":29416,"v":-20.8},{"s":"c","f":29455,"v":-20.5},{"s":"c","f":29486,"v":-20.4},{"s":"c","f":29520,"v":-20.45},{"s":"c","f":29550,"v":-20.65},{"s":"c","f":29585,"v":-21.0},{"s":"c","f":29615,"v":-21.5},{"s":"c","f":29648,"v":-22.2},{"s":"c","f":29680,"v":-23.1},{"s":"c","f":29706,"v":-24.2},{"s":"c","f":29730,"v":-25.6},{"s":"c","f":29755,"v":-27.0},{"s":"c","f":29780,"v":-28.6},{"s":"c","f":29817,"v":-30.1},{"s":"c","f":29845,"v":-28.6},{"s":"c","f":29866,"v":-26.6},{"s":"c","f":29884,"v":-25.0},{"s":"c","f":29902,"v":-23.4},{"s":"c","f":29921,"v":-21.8},{"s":"c","f":29940,"v":-20.1},{"s":"c","f":29961,"v":-18.4},{"s":"c","f":29985,"v":-16.8},{"s":"c","f":30010,"v":-15.3},{"s":"c","f":30042,"v":-14.1},{"s":"c","f":30084,"v":-12.5},{"s":"c","f":30130,"v":-10.9},{"s":"c","f":30165,"v":-9.6},{"s":"c","f":30200,"v":-8.4},{"s":"c","f":30239,"v":-7.5},{"s":"c","f":30279,"v":-6.65},{"s":"c","f":30316,"v":-5.89},{"s":"c","f":30355,"v":-5.21},{"s":"c","f":30394,"v":-4.57},{"s":"c","f":30448,"v":-3.77},{"s":"c","f":30506,"v":-3.15},{"s":"c","f":30564,"v":-2.69},{"s":"c","f":30645,"v":-2.12},{"s":"c","f":30726,"v":-1.71},{"s":"c","f":30807,"v":-1.43},{"s":"c","f":30888,"v":-1.2},{"s":"c","f":30969,"v":-1.02},{"s":"c","f":31051,"v":-0.86},
{"s":"c","f":31130,"v":-0.74},{"s":"c","f":31210,"v":-0.64},{"s":"c","f":31290,"v":-0.57},{"s":"c","f":31370,"v":-0.52},{"s":"c","f":31450,"v":-0.47},{"s":"c","f":31530,"v":-0.43},{"s":"c","f":31610,"v":-0.4},{"s":"c","f":31690,"v":-0.38},{"s":"c","f":31770,"v":-0.36},{"s":"c","f":31850,"v":-0.35},{"s":"c","f":31930,"v":-0.34},{"s":"c","f":32010,"v":-0.33},{"s":"c","f":32090,"v":-0.32},{"s":"c","f":32170,"v":-0.31},{"s":"c","f":32250,"v":-0.3},{"s":"c","f":32330,"v":-0.29},{"s":"c","f":32410,"v":-0.28},{"s":"c","f":32490,"v":-0.27},{"s":"c","f":32570,"v":-0.26},{"s":"c","f":32650,"v":-0.25},{"s":"c","f":32730,"v":-0.24},{"s":"c","f":32810,"v":-0.24},{"s":"c","f":32890,"v":-0.23},{"s":"c","f":32970,"v":-0.22},{"s":"c","f":33000,"v":-0.22}
]
},
"encoding":{
"x":{"field":"f","type":"quantitative","scale":{"domain":[23000,33000],"nice":false,"zero":false},
"axis":{"values":[23000,23500,24000,24500,25000,25500,26000,26500,27000,27500,28000,28500,29000,29500,30000,30500,31000,31500,32000,32500,33000],
"labelExpr":"datum.value % 1000 === 0 ? '' + datum.value : ''","grid":true,
"gridColor":{"condition":{"test":"datum.value % 1000 === 0","value":"#1E1E1E"},"value":"#C6C6C6"},"gridWidth":1,
"tickColor":{"condition":{"test":"datum.value % 1000 === 0","value":"#333333"},"value":"rgba(0,0,0,0)"},"tickSize":5,"domain":false,
"labelFontSize":23,"labelColor":"#000000","labelPadding":15,"labelOverlap":false,"labelFlush":false,
"title":"Frequency (MHz)","titleFontSize":24,"titleFontWeight":"normal","titleColor":"#000000",
"titleX":695,"titleY":71,"titleAlign":"center","titleBaseline":"alphabetic"}},
"y":{"field":"v","type":"quantitative","scale":{"domain":[-60,0],"nice":false,"zero":false},
"axis":{"values":[-60,-57,-54,-51,-48,-45,-42,-39,-36,-33,-30,-27,-24,-21,-18,-15,-12,-9,-6,-3,0],
"labelExpr":"datum.value % 6 === 0 ? '' + datum.value : ''","grid":true,
"gridColor":{"condition":{"test":"datum.value % 6 === 0","value":"#1E1E1E"},"value":"#C6C6C6"},"gridWidth":1,
"tickColor":{"condition":{"test":"datum.value % 6 === 0","value":"#333333"},"value":"rgba(0,0,0,0)"},"tickSize":5,"domain":false,
"labelFontSize":23,"labelColor":"#FF0000","labelPadding":11,"labelOverlap":false,"labelFlush":false,
"title":"s11, s21 (dB)","titleFontSize":24,"titleFontWeight":"normal","titleColor":"#FF0000",
"titleX":-66,"titleY":465,"titleAlign":"center","titleBaseline":"alphabetic","titleAngle":270}}
},
"layer":[
{"data":{"name":"curves"},"transform":[{"filter":{"field":"s","oneOf":["d","e","f"]}}],
"mark":{"type":"line","strokeWidth":1.5,"clip":true},
"encoding":{"color":{"field":"s","type":"nominal","legend":null,"scale":{"domain":["a","b","c","d","e","f","hdr","mk","lg1","lg2"],"range":["#A8125A","#AD7035","#E8302A","#3939B9","#7D6CC0","#4785CF","#000000","#2020F0","#FF1A1A","#1A1AE6"]}}}},
{"data":{"name":"curves"},"transform":[{"filter":{"field":"s","oneOf":["d","e","f"]}}],
"mark":{"type":"point","shape":"square","filled":true,"size":54,"opacity":1,"clip":true},
"encoding":{"color":{"field":"s","type":"nominal","legend":null,"scale":{"domain":["a","b","c","d","e","f","hdr","mk","lg1","lg2"],"range":["#A8125A","#AD7035","#E8302A","#3939B9","#7D6CC0","#4785CF","#000000","#2020F0","#FF1A1A","#1A1AE6"]}}}},
{"data":{"name":"curves"},"transform":[{"filter":{"field":"s","oneOf":["a","b","c"]}}],
"mark":{"type":"line","strokeWidth":1.5,"clip":true},
"encoding":{"color":{"field":"s","type":"nominal","legend":null,"scale":{"domain":["a","b","c","d","e","f","hdr","mk","lg1","lg2"],"range":["#A8125A","#AD7035","#E8302A","#3939B9","#7D6CC0","#4785CF","#000000","#2020F0","#FF1A1A","#1A1AE6"]}}}},
{"data":{"name":"curves"},"transform":[{"filter":{"field":"s","oneOf":["a","b","c"]}}],
"mark":{"type":"point","shape":"circle","filled":true,"size":38,"opacity":1,"clip":true},
"encoding":{"color":{"field":"s","type":"nominal","legend":null,"scale":{"domain":["a","b","c","d","e","f","hdr","mk","lg1","lg2"],"range":["#A8125A","#AD7035","#E8302A","#3939B9","#7D6CC0","#4785CF","#000000","#2020F0","#FF1A1A","#1A1AE6"]}}}},
{"data":{"values":[{"s":"mk","f":25984,"v":-4.5,"v2":-60}]},
"mark":{"type":"rule","strokeWidth":2.5,"strokeDash":[6,3]},
"encoding":{"y2":{"field":"v2"},"color":{"field":"s","type":"nominal","legend":null,"scale":{"domain":["a","b","c","d","e","f","hdr","mk","lg1","lg2"],"range":["#A8125A","#AD7035","#E8302A","#3939B9","#7D6CC0","#4785CF","#000000","#2020F0","#FF1A1A","#1A1AE6"]}}}},
{"data":{"values":[{"f":25984,"v":-4.5,"v2":-60}]},
"mark":{"type":"rule","color":"#7A7A7A","strokeWidth":1},
"encoding":{"y2":{"field":"v2"}}},
{"data":{"values":[{"t":"25983.7963 MHz","s":"mk","f":25942,"v":-12.71}]},
"mark":{"type":"text","angle":270,"align":"left","baseline":"alphabetic","fontSize":22,"clip":false},
"encoding":{"text":{"field":"t"},"color":{"field":"s","type":"nominal","legend":null,"scale":{"domain":["a","b","c","d","e","f","hdr","mk","lg1","lg2"],"range":["#A8125A","#AD7035","#E8302A","#3939B9","#7D6CC0","#4785CF","#000000","#2020F0","#FF1A1A","#1A1AE6"]}}}},
{"data":{"values":[{"f":25812,"f2":26152,"v":2.15,"v2":0.1},{"f":25812,"f2":26152,"v":-0.5,"v2":-4.5},{"f":25812,"f2":26152,"v":-17.87,"v2":-21.9},{"f":25812,"f2":26152,"v":-22.3,"v2":-26.3}]},
"mark":{"type":"rect","fill":"#EBF1FC","clip":false},
"encoding":{"x2":{"field":"f2"},"y2":{"field":"v2"}}},
{"data":{"values":[{"t":"v","s":"a","f":25984,"v":1.01},{"t":"1b","s":"b","f":25984,"v":-1.86},{"t":"v","s":"b","f":25984,"v":-3.73},{"t":"1d","s":"d","f":25984,"v":-19.09},{"t":"v","s":"d","f":25984,"v":-21.05},{"t":"1e","s":"e","f":25984,"v":-23.62},{"t":"v","s":"e","f":25984,"v":-25.52}]},
"mark":{"type":"text","fontSize":21,"align":"center","baseline":"middle","clip":false},
"encoding":{"text":{"field":"t"},"color":{"field":"s","type":"nominal","legend":null,"scale":{"domain":["a","b","c","d","e","f","hdr","mk","lg1","lg2"],"range":["#A8125A","#AD7035","#E8302A","#3939B9","#7D6CC0","#4785CF","#000000","#2020F0","#FF1A1A","#1A1AE6"]}}}},
{"data":{"values":[{"f":25984,"v":-0.2531}]},
"mark":{"type":"point","shape":"circle","size":30,"fill":"#FFFFFF","stroke":"#000000","strokeWidth":1.6,"opacity":1}},
{"data":{"values":[{"f":25984,"v":-22.19}]},
"mark":{"type":"point","shape":"square","size":50,"fill":"#FFFFFF","stroke":"#000000","strokeWidth":1.6,"opacity":1}},
{"data":{"values":[{"t":"1) 25983.7963 MHz","s":"hdr","f":33276,"v":-0.94}]},
"mark":{"type":"text","fontSize":21.8,"align":"left","baseline":"middle","clip":false},
"encoding":{"text":{"field":"t"},"color":{"field":"s","type":"nominal","legend":null,"scale":{"domain":["a","b","c","d","e","f","hdr","mk","lg1","lg2"],"range":["#A8125A","#AD7035","#E8302A","#3939B9","#7D6CC0","#4785CF","#000000","#2020F0","#FF1A1A","#1A1AE6"]}}}},
{"data":{"values":[
{"t":"a) -0.2531 dB","s":"a","f":33403,"v":-2.96},{"t":"(dk=2.18)","s":"a","f":33403,"v":-4.98},
{"t":"b) -0.2715 dB","s":"b","f":33403,"v":-6.99},{"t":"(dk=2.2)","s":"b","f":33403,"v":-9.01},
{"t":"c) -0.2919 dB","s":"c","f":33403,"v":-11.03},{"t":"(dk=2.22)","s":"c","f":33403,"v":-13.05},
{"t":"d) -22.1944 dB","s":"d","f":33403,"v":-15.07},{"t":"(dk=2.18)","s":"d","f":33403,"v":-17.09},
{"t":"e) -21.2637 dB","s":"e","f":33403,"v":-19.11},{"t":"(dk=2.2)","s":"e","f":33403,"v":-21.13},
{"t":"f) -20.3588 dB","s":"f","f":33403,"v":-23.14},{"t":"(dk=2.22)","s":"f","f":33403,"v":-25.16}]},
"mark":{"type":"text","fontSize":20.7,"align":"left","baseline":"middle","clip":false},
"encoding":{"text":{"field":"t"},"color":{"field":"s","type":"nominal","legend":null,"scale":{"domain":["a","b","c","d","e","f","hdr","mk","lg1","lg2"],"range":["#A8125A","#AD7035","#E8302A","#3939B9","#7D6CC0","#4785CF","#000000","#2020F0","#FF1A1A","#1A1AE6"]}}}},
{"data":{"values":[{"f":22346,"f2":34822,"v":-65.55}]},
"mark":{"type":"rule","color":"#9A9A9A","strokeWidth":2,"clip":false},
"encoding":{"x2":{"field":"f2"}}},
{"data":{"values":[{"s":"lg1","f":25274,"f2":25462,"v":-66.16},{"s":"lg2","f":31519,"f2":31700,"v":-66.16}]},
"mark":{"type":"rule","strokeWidth":2,"clip":false},
"encoding":{"x2":{"field":"f2"},"color":{"field":"s","type":"nominal","legend":null,"scale":{"domain":["a","b","c","d","e","f","hdr","mk","lg1","lg2"],"range":["#A8125A","#AD7035","#E8302A","#3939B9","#7D6CC0","#4785CF","#000000","#2020F0","#FF1A1A","#1A1AE6"]}}}},
{"data":{"values":[{"s":"lg1","f":25371,"v":-66.16},{"s":"lg2","f":31609,"v":-66.16}]},
"mark":{"type":"point","shape":"cross","filled":true,"size":40,"opacity":1,"clip":false},
"encoding":{"color":{"field":"s","type":"nominal","legend":null,"scale":{"domain":["a","b","c","d","e","f","hdr","mk","lg1","lg2"],"range":["#A8125A","#AD7035","#E8302A","#3939B9","#7D6CC0","#4785CF","#000000","#2020F0","#FF1A1A","#1A1AE6"]}}}},
{"data":{"values":[{"t":"s11","s":"lg1","f":25483,"v":-66.16},{"t":"s21","s":"lg2","f":31741,"v":-66.16}]},
"mark":{"type":"text","fontSize":11,"align":"left","baseline":"middle","clip":false},
"encoding":{"text":{"field":"t"},"color":{"field":"s","type":"nominal","legend":null,"scale":{"domain":["a","b","c","d","e","f","hdr","mk","lg1","lg2"],"range":["#A8125A","#AD7035","#E8302A","#3939B9","#7D6CC0","#4785CF","#000000","#2020F0","#FF1A1A","#1A1AE6"]}}}}
]
}
